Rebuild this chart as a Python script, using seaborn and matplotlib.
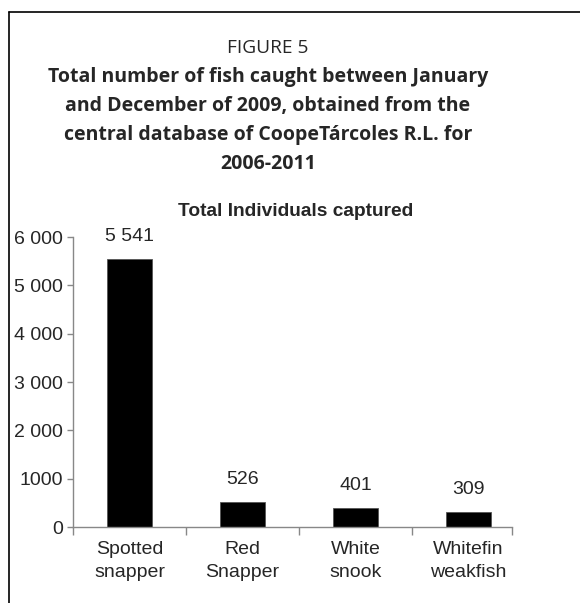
import matplotlib
matplotlib.use("Agg")
import matplotlib.pyplot as plt
import seaborn as sns
from matplotlib.lines import Line2D
from matplotlib.ticker import FixedLocator

# data
species = ["Spotted\nsnapper", "Red\nSnapper", "White\nsnook", "Whitefin\nweakfish"]
individuals = [5541, 526, 401, 309]
bar_labels = ["5 541", "526", "401", "309"]
y_ticks = [0, 1000, 2000, 3000, 4000, 5000, 6000]
y_tick_labels = ["0", "1000", "2 000", "3 000", "4 000", "5 000", "6 000"]

sns.set_style("white")
plt.rcParams["font.family"] = ["Liberation Sans", "DejaVu Sans"]

W, H = 580, 603
fig = plt.figure(figsize=(W / 100, H / 100), dpi=100)
ax = fig.add_axes([73 / W, 1 - 527 / H, (512 - 73) / W, (527 - 237) / H])

sns.barplot(x=species, y=individuals, color="black", width=0.4,
            edgecolor="#555555", linewidth=0.6, saturation=1, ax=ax)

ax.set_xlim(-0.5, 3.385)
ax.set_ylim(0, 6000)

# value labels above bars
for i, (v, lab) in enumerate(zip(individuals, bar_labels)):
    ax.annotate(lab, (i, v), xytext=(0, 10), textcoords="offset points",
                ha="center", va="bottom", fontsize=14)

ax.yaxis.set_major_locator(FixedLocator(y_ticks))
ax.set_yticklabels(y_tick_labels, fontsize=14)
ax.tick_params(axis="y", direction="out", length=4, color="#888888", width=1, pad=3, left=True)

ax.set_xticks(range(len(species)))
ax.set_xticklabels(species, fontsize=14, linespacing=1.5)
ax.tick_params(axis="x", which="major", length=0, pad=10)
ax.set_xticks([-0.5, 0.5, 1.5, 2.5, 3.385], minor=True)
ax.tick_params(axis="x", which="minor", direction="out", length=6, color="#888888", width=1, bottom=True)

for s in ["top", "right"]:
    ax.spines[s].set_visible(False)
for s in ["left", "bottom"]:
    ax.spines[s].set_color("#888888")
    ax.spines[s].set_linewidth(1)

ax.set_xlabel("")
ax.set_ylabel("")

ax.text(0.508, 1.087, "Total Individuals captured", transform=ax.transAxes,
        ha="center", va="center", fontsize=13.8, fontweight="bold")

# figure heading
fig.text(268 / W, 1 - 48 / H, "FIGURE 5", ha="center", va="center",
         fontsize=13.8, family=["Open Sans", "DejaVu Sans"])
heading = ["Total number of fish caught between January",
           "and December of 2009, obtained from the",
           "central database of CoopeTárcoles R.L. for",
           "2006-2011"]
for k, line in enumerate(heading):
    fig.text(268 / W, 1 - (77 + 29 * k) / H, line, ha="center", va="center",
             fontsize=14, fontweight="bold", family=["Open Sans", "DejaVu Sans"])

# frame around the figure
fig.add_artist(Line2D([9 / W, 1], [1 - 12 / H, 1 - 12 / H], color="black", lw=1.2))
fig.add_artist(Line2D([9 / W, 9 / W], [0, 1 - 12 / H], color="black", lw=1.2))

fig.savefig("out.png", dpi=100)
